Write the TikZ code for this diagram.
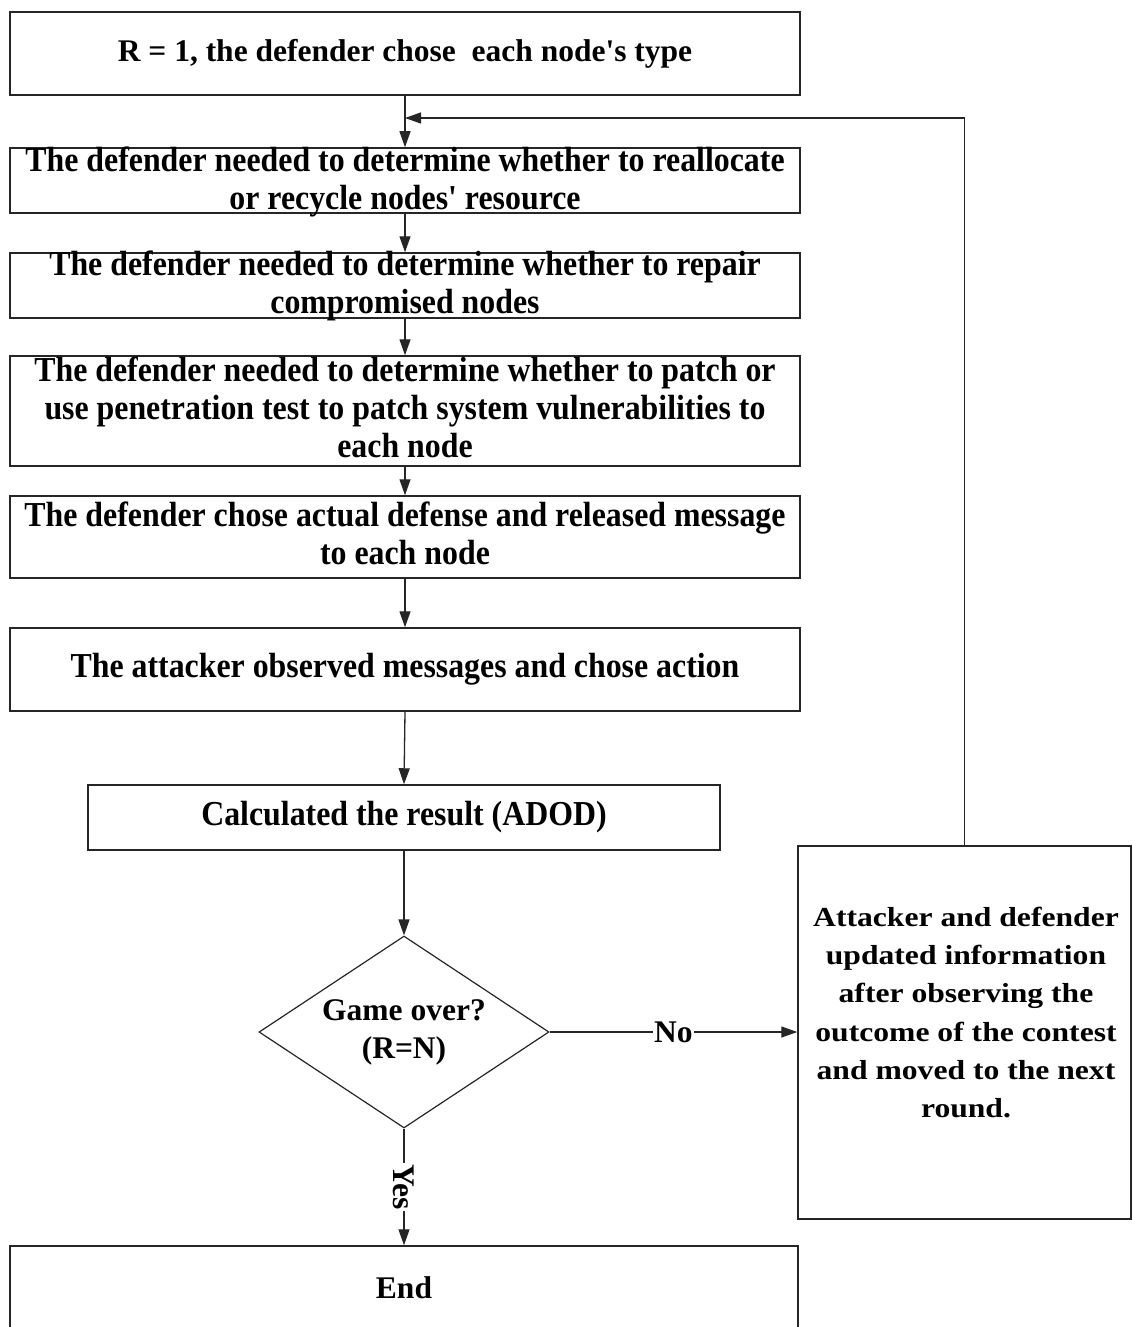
\documentclass[tikz,border=0pt]{standalone}
\usepackage{fontspec}
\setmainfont{Liberation Serif}[Ligatures=TeXOff]
% narrow face for the long step texts, wide face for the update box
\newfontfamily\condface{Liberation Serif}[FakeStretch=0.91, Ligatures=TeXOff]
\newfontfamily\wideface{Liberation Serif}[FakeStretch=1.15, Ligatures=TeXOff]
\usetikzlibrary{shapes.geometric,arrows.meta}
\begin{document}
\begin{tikzpicture}[x=1pt,y=-1pt,
  every node/.style={font=\fontsize{31.5}{38}\selectfont\bfseries},
  box/.style={draw=black!85, line width=1.5pt, rectangle, inner sep=0pt},
  txt/.style={align=center, inner sep=0pt},
  condtxt/.style={txt, font=\condface\fontsize{35}{38}\selectfont\bfseries},
  widetxt/.style={txt, font=\wideface\fontsize{27.5}{38.2}\selectfont\bfseries},
  decision/.style={draw=black!85, line width=1.2pt, diamond, inner sep=0pt,
    minimum width=290pt, minimum height=192pt},
  arr/.style={draw=black!85, line width=1.3pt, -{Triangle[length=16pt,width=11pt]}},
  lbl/.style={fill=white, inner sep=1pt}]
\useasboundingbox (0,0) rectangle (1132,1327);
\fill[white] (0,0) rectangle (1132,1327);

% main chain of steps
\node[box, minimum width=790pt, minimum height=83pt] (b1) at (405,53.5) {};
\node[txt] at (b1) {R = 1, the defender chose\ \ each node's type};

\node[box, minimum width=790pt, minimum height=65pt] (b2) at (405,180.5) {};
\node[condtxt] at (405,182) {The defender needed to determine whether to reallocate\\or recycle nodes' resource};

\node[box, minimum width=790pt, minimum height=65pt] (b3) at (405,285.5) {};
\node[condtxt] at (405,286) {The defender needed to determine whether to repair\\compromised nodes};

\node[box, minimum width=790pt, minimum height=110pt] (b4) at (405,411) {};
\node[condtxt] at (405,407) {The defender needed to determine whether to patch or\\use penetration test to patch system vulnerabilities to\\each node};

\node[box, minimum width=790pt, minimum height=82pt] (b5) at (405,537) {};
\node[condtxt] at (405,533) {The defender chose actual defense and released message\\to each node};

\node[box, minimum width=790pt, minimum height=83pt] (b6) at (405,669.5) {};
\node[condtxt] at (b6) {The attacker observed messages and chose action};

\node[box, minimum width=632pt, minimum height=65pt] (b7) at (404,817.5) {};
\node[condtxt] at (b7) {Calculated the result (ADOD)};

% decision
\node[decision] (dec) at (404,1032) {};
\node[txt] at (dec) {Game over?\\(R=N)};

% update box
\node[box, minimum width=333pt, minimum height=373pt] (rb) at (964.5,1032.5) {};
\node[widetxt] at (966,1012.5) {Attacker and defender\\updated information\\after observing the\\outcome of the contest\\and moved to the next\\round.};

% end box
\node[box, minimum width=788pt, minimum height=84pt] (endb) at (404,1288) {};
\node[txt] at (endb) {End};

% connectors
\coordinate (merge) at (405,118);
\draw[arr] (b1.south) -- (b2.north);
\draw[arr] (b2.south) -- (b3.north);
\draw[arr] (b3.south) -- (b4.north);
\draw[arr] (b4.south) -- (b5.north);
\draw[arr] (b5.south) -- (b6.north);
\draw[arr] (b6.south) -- (b7.north);
\draw[arr] (b7.south) -- (dec.north);
\draw[arr] (dec.east) -- node[lbl] {No} (dec.east -| rb.west);
\draw[arr] (dec.south) -- node[lbl, rotate=-90] {Yes} (endb.north);
\draw[arr] (rb.north) |- (merge);
\end{tikzpicture}
\end{document}
